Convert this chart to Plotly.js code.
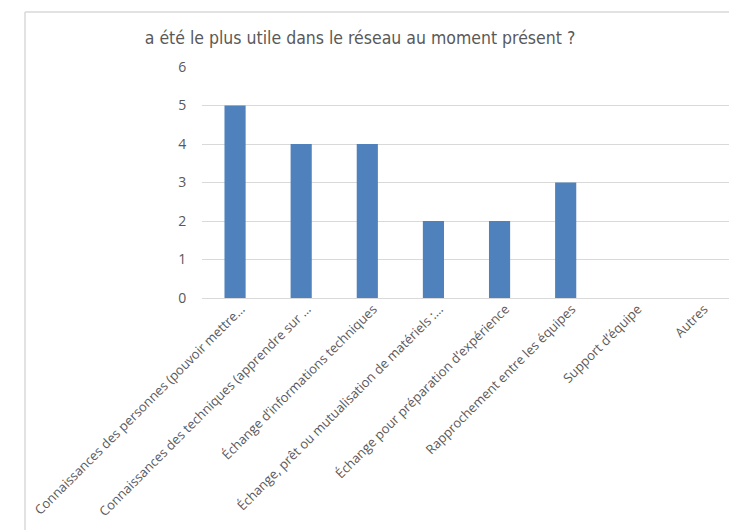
<!DOCTYPE html>
<html>
<head>
<meta charset="utf-8">
<script src="https://cdn.plot.ly/plotly-3.0.1.min.js"></script>
<style>
html,body{margin:0;padding:0;background:#fff;overflow:hidden;}
#chart{width:729px;height:530px;}
</style>
</head>
<body>
<div id="chart"></div>
<script>
const categories = [
  "Connaissances des personnes (pouvoir mettre…",
  "Connaissances des techniques (apprendre sur …",
  "Échange d’informations techniques",
  "Échange, prêt ou mutualisation de matériels :…",
  "Échange pour préparation d’expérience",
  "Rapprochement entre les équipes",
  "Support d’équipe",
  "Autres"
];
const values = [5, 4, 4, 2, 2, 3, 0, 0];
const yTicks = [0, 1, 2, 3, 4, 5, 6];
const chartTitle = "a été le plus utile dans le réseau au moment présent ?";

const W = 729, H = 530;
const mL = 202, mR = 0, mT = 67, mB = 232;
const pw = W - mL - mR, ph = H - mT - mB;
// frame (chart border) position in pixels
const frameX = 25, frameY = 12;
const fx = (frameX - mL) / pw;
const fy = 1 + (mT - frameY) / ph;

const trace = {
  type: 'bar',
  x: categories,
  y: values,
  marker: {color: '#4f81bd', line: {width: 0}},
  hoverinfo: 'x+y'
};

const layout = {
  width: W, height: H,
  margin: {l: mL, r: mR, t: mT, b: mB, pad: 0},
  paper_bgcolor: '#ffffff',
  plot_bgcolor: '#ffffff',
  bargap: 0.68,
  showlegend: false,
  font: {family: 'Open Sans, sans-serif', color: '#595959'},
  title: {
    text: chartTitle,
    font: {family: 'Liberation Sans Narrow, DejaVu Sans Condensed, sans-serif', size: 17.5, color: '#595959'},
    x: 360 / W, xanchor: 'center', xref: 'container',
    y: 1 - 38 / H, yanchor: 'middle', yref: 'container'
  },
  xaxis: {
    type: 'category',
    range: [-0.5, 7.47],
    tickangle: -45,
    tickfont: {family: 'Open Sans, sans-serif', size: 13, color: '#595959'},
    showgrid: false,
    showline: false,
    zeroline: false,
    ticks: '', ticklabelshift: 6,
    fixedrange: true
  },
  yaxis: {
    range: [0, 6],
    tickvals: yTicks,
    ticktext: yTicks.map(String),
    tickfont: {family: 'Open Sans, sans-serif', size: 14, color: '#595959'},
    showgrid: true, gridcolor: '#d9d9d9', gridwidth: 1,
    zeroline: true, zerolinecolor: '#d9d9d9', zerolinewidth: 1,
    showline: false,
    ticks: 'outside', ticklen: 12, tickcolor: 'rgba(0,0,0,0)',
    fixedrange: true
  },
  shapes: [
    {type: 'line', xref: 'paper', yref: 'paper', x0: fx, x1: fx, y0: fy, y1: -1.5,
     line: {color: '#d9d9d9', width: 1.5}},
    {type: 'line', xref: 'paper', yref: 'paper', x0: fx, x1: 1.05, y0: fy, y1: fy,
     line: {color: '#d9d9d9', width: 1.5}}
  ]
};

Plotly.newPlot('chart', [trace], layout, {displayModeBar: false, staticPlot: true});
</script>
</body>
</html>
